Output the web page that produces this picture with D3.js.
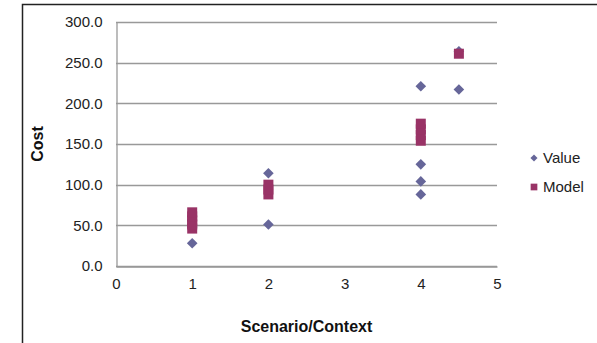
<!DOCTYPE html>
<html>
<head>
<meta charset="utf-8">
<script src="https://cdn.jsdelivr.net/npm/d3@7"></script>
<style>
  html, body { margin: 0; padding: 0; background: #fff; }
  svg { display: block; font-family: "Liberation Sans", Arial, sans-serif; }
</style>
</head>
<body>
<div id="chart"></div>
<script>
// Value series (diamonds)
const valueX = [1, 1, 2, 2, 4, 4, 4, 4, 4.5, 4.5];
const valueY = [28, 48, 114, 51, 221, 125, 104, 88, 217, 264];

// Model series (squares)
const modelX = [1, 1, 1, 1, 1, 2, 2, 2, 4, 4, 4, 4, 4.5];
const modelY = [46, 51, 56, 61, 66, 88, 94, 100, 154, 161, 168, 175, 261];

const xTicks = [0, 1, 2, 3, 4, 5];
const yTicks = [0, 50, 100, 150, 200, 250, 300];
const seriesNames = ["Value", "Model"];
const seriesColors = ["#666699", "#993366"];

let width = 597;
let height = 343;
let margin = {left: 116, right: 100, top: 22, bottom: 77};

const svg = d3.select("#chart").append("svg")
  .attr("width", width)
  .attr("height", height);

// outer chart frame (right/bottom edges fall outside the window)
svg.append("rect")
  .attr("x", 22.5)
  .attr("y", 4.5)
  .attr("width", 700)
  .attr("height", 500)
  .attr("fill", "none")
  .attr("stroke", "#222")
  .attr("stroke-width", 1.5);

let x = d3.scaleLinear()
  .domain([0, 5])
  .range([margin.left, width - margin.right]);

let y = d3.scaleLinear()
  .domain([0, 300])
  .range([height - margin.bottom, margin.top]);

// gridlines
svg.append("g")
  .selectAll("line")
  .data(yTicks)
  .join("line")
  .attr("x1", x(0))
  .attr("x2", x(5))
  .attr("y1", d => Math.round(y(d)) + 0.5)
  .attr("y2", d => Math.round(y(d)) + 0.5)
  .attr("stroke", "#999")
  .attr("stroke-width", 1.3);

// y axis
const yAxis = svg.append("g")
  .attr("transform", `translate(${Math.round(x(0)) + 0.5},0)`)
  .call(d3.axisLeft(y).tickValues(yTicks).tickFormat(d3.format(".1f")).tickSize(0).tickPadding(14));
yAxis.select(".domain").attr("stroke", "#999").attr("stroke-width", 1.3);
yAxis.selectAll("text")
  .attr("font-size", 15)
  .attr("font-family", "Liberation Sans, Arial, sans-serif")
  .attr("fill", "#222");

// x axis
const xAxis = svg.append("g")
  .attr("transform", `translate(0,${Math.round(y(0)) + 0.5})`)
  .call(d3.axisBottom(x).tickValues(xTicks).tickFormat(d3.format("d")).tickSize(0).tickPadding(12));
xAxis.select(".domain").attr("stroke", "#999").attr("stroke-width", 1.3);
xAxis.selectAll("text")
  .attr("font-size", 15)
  .attr("font-family", "Liberation Sans, Arial, sans-serif")
  .attr("fill", "#222");

// axis titles
svg.append("text")
  .attr("x", (x(0) + x(5)) / 2)
  .attr("y", 332)
  .attr("text-anchor", "middle")
  .attr("font-size", 16)
  .attr("font-weight", "bold")
  .attr("fill", "#111")
  .text("Scenario/Context");

svg.append("text")
  .attr("transform", `translate(43,${y(150)}) rotate(-90)`)
  .attr("text-anchor", "middle")
  .attr("font-size", 16)
  .attr("font-weight", "bold")
  .attr("fill", "#111")
  .text("Cost");

const diamond = d3.symbol().type(d3.symbolDiamond2).size(72);
const square = d3.symbol().type(d3.symbolSquare).size(100);

// value markers first, model drawn over them
svg.append("g")
  .selectAll("path")
  .data(d3.zip(valueX, valueY))
  .join("path")
  .attr("d", diamond)
  .attr("transform", d => `translate(${x(d[0])},${y(d[1])})`)
  .attr("fill", seriesColors[0]);

svg.append("g")
  .selectAll("path")
  .data(d3.zip(modelX, modelY))
  .join("path")
  .attr("d", square)
  .attr("transform", d => `translate(${x(d[0])},${y(d[1])})`)
  .attr("fill", seriesColors[1]);

// legend
const legend = svg.append("g")
  .selectAll("g")
  .data(seriesNames)
  .join("g")
  .attr("transform", (d, i) => `translate(534,${158 + i * 29})`);

legend.append("path")
  .attr("d", (d, i) => i === 0
    ? d3.symbol().type(d3.symbolDiamond2).size(32)()
    : d3.symbol().type(d3.symbolSquare).size(45)())
  .attr("fill", (d, i) => seriesColors[i]);

legend.append("text")
  .attr("x", 9)
  .attr("y", 0)
  .attr("dy", "0.35em")
  .attr("font-size", 15)
  .attr("fill", "#222")
  .text(d => d);
</script>
</body>
</html>
